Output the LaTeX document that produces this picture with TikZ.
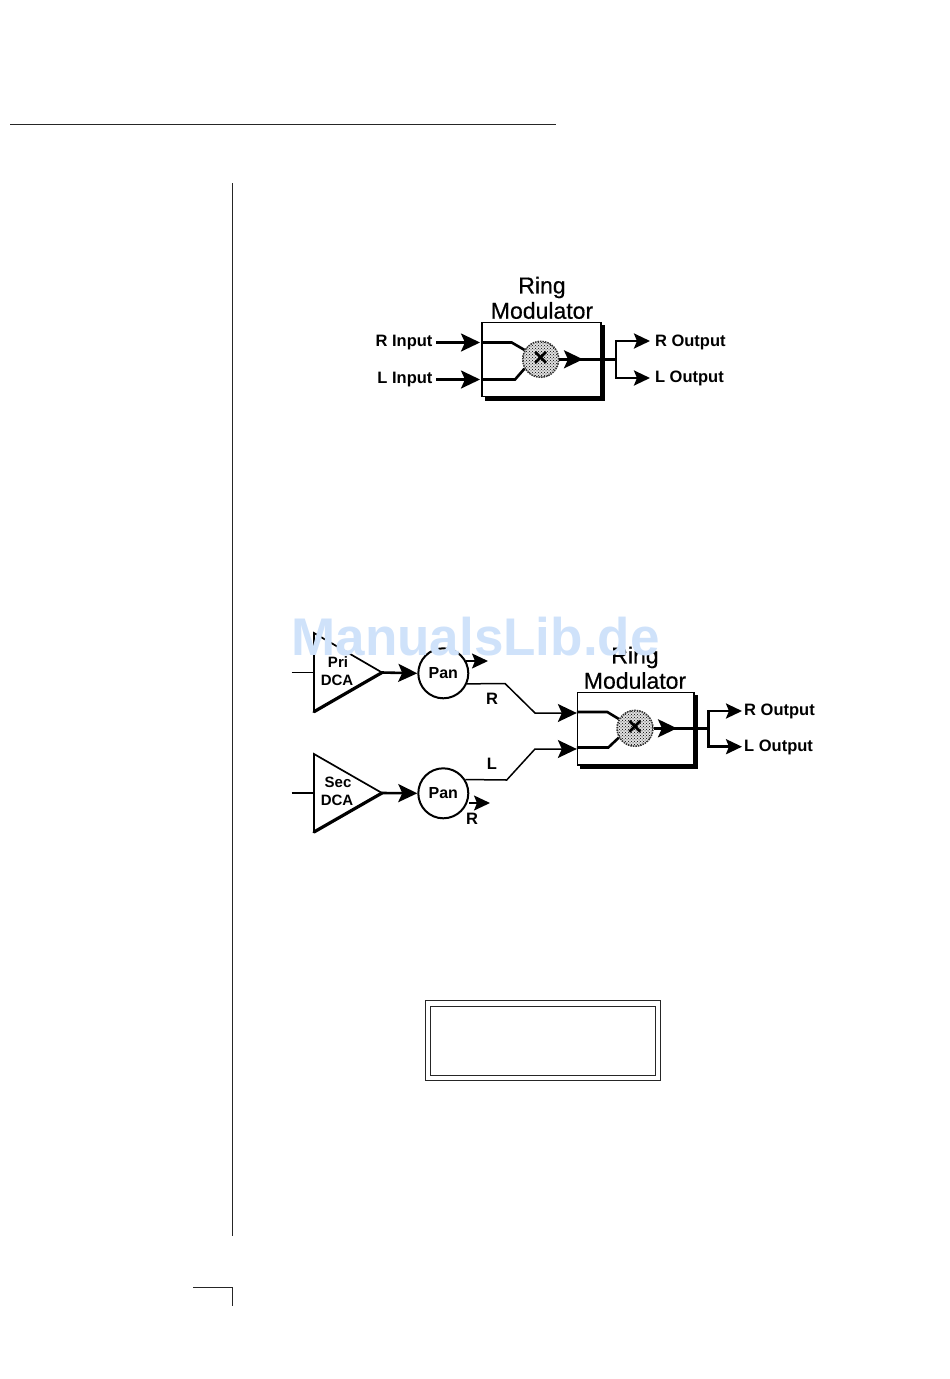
\documentclass[tikz,border=0pt]{standalone}
\usepackage{fontspec}
\setmainfont{Liberation Sans}
\newfontfamily\heavyfont[FakeBold=0.5]{Liberation Sans}
\usetikzlibrary{arrows.meta,patterns,shadows}
\definecolor{markblue}{HTML}{CFE2FA}
\tikzset{
    thinline/.style={line width=1.5pt},
    wire/.style={line width=2.6pt},
    bighead/.style={-{Stealth[length=19pt,width=18pt,inset=4pt]}},
    outhead/.style={-{Stealth[length=16pt,width=15pt,inset=3pt]}},
    pagerule/.style={line width=1pt, black!85},
    modbox/.style={draw, line width=1.4pt, fill=white, copy shadow={shadow xshift=3.5pt, shadow yshift=-3.5pt, fill=black, draw=black}},
    mixer/.style={circle, minimum size=36pt, inner sep=0pt, draw=black!80, densely dotted, line width=1.5pt, preaction={fill=black!12}, pattern=crosshatch dots, pattern color=black, font=\bfseries\fontsize{26}{26}\selectfont},
    panknob/.style={draw, circle, line width=2pt, fill=white, minimum size=50pt, inner sep=0pt, font=\bfseries\fontsize{16}{16}\selectfont},
    biglabel/.style={font=\heavyfont\fontsize{23}{23}\selectfont},
    smalllabel/.style={font=\bfseries\fontsize{16.5}{16.5}\selectfont},
    dcalabel/.style={font=\bfseries\fontsize{15}{15}\selectfont},
}
\begin{document}
\begin{tikzpicture}[x=1pt, y=-1pt]
    \useasboundingbox (0,0) rectangle (950,1379);
    % page rules
    \draw[pagerule] (10,124) -- (556,124);
    \draw[pagerule] (232.5,183) -- (232.5,1236);
    \draw[pagerule] (193,1287) -- (232,1287) -- (232,1306);

    % first ring modulator
    \node[modbox, minimum width=119pt, minimum height=74pt] (ringbox) at (541.3,359.5) {};
    \node[mixer] (ringmix) at (540.7,359.3) {\textcolor{black}{×}};
    \node[biglabel] (ringtitle) at (542,287.5) {Ring};
    \node[biglabel] (ringname) at (542,310.5) {Modulator};
    \node[smalllabel, anchor=east] (rinput) at (436,343) {R Input};
    \node[smalllabel, anchor=east] (linput) at (436,380) {L Input};
    \node[smalllabel, anchor=west] (routput) at (651.5,342.5) {R Output};
    \node[smalllabel, anchor=west] (loutput) at (651.5,378.5) {L Output};
    \coordinate (routtip) at (650,341);
    \coordinate (louttip) at (650,378);
    \draw[wire, bighead] (rinput.east |- 0,342.5) -- (480,342.5);
    \draw[wire, bighead] (linput.east |- 0,379.5) -- (480,379.5);
    \draw[wire] (ringbox.west |- 0,342.5) -- (511.7,342.5) -- (ringmix.150);
    \draw[wire] (ringbox.west |- 0,379.5) -- (515,379.5) -- (ringmix.210);
    \draw[wire, bighead] (ringmix.east) -- (583,359.3);
    \coordinate (ringfork) at (616,359.3);
    \draw[wire] (ringmix.east) -- (ringfork);
    \draw[wire, outhead] (ringfork) |- (routtip);
    \draw[wire, outhead] (ringfork) |- (louttip);

    % triangles of the second diagram
    \coordinate (pritop) at (314,633);
    \coordinate (prilow) at (314,711.7);
    \coordinate (pritip) at (382,672.5);
    \coordinate (sectop) at (314,754);
    \coordinate (seclow) at (314,832);
    \coordinate (sectip) at (382,793);
    \coordinate (priin) at (291.5,672.5);
    \coordinate (secin) at (291.5,793);
    \draw[thinline] (priin) -- (314,672.5);
    \draw[thinline] (secin) -- (314,793);
    \draw[line width=1.7pt] (prilow) -- (pritop) -- (pritip);
    \draw[line width=3.2pt, line cap=round] (pritip) -- (prilow);
    \draw[line width=1.7pt] (seclow) -- (sectop) -- (sectip);
    \draw[line width=3.2pt, line cap=round] (sectip) -- (seclow);
    \node[dcalabel] (prilabel) at (338,662) {Pri};
    \node[dcalabel] (pridca) at (337,680) {DCA};
    \node[dcalabel] (seclabel) at (338,782) {Sec};
    \node[dcalabel] (secdca) at (337,800) {DCA};

    % pan stages
    \node[panknob] (panpri) at (443.3,673.3) {Pan};
    \node[panknob] (pansec) at (443.3,793.3) {Pan};
    \draw[wire, bighead] (pritip) -- (panpri.west);
    \draw[wire, bighead] (sectip) -- (pansec.west);
    \coordinate (priend) at (488,661);
    \coordinate (secend) at (490,803);
    \draw[thinline, outhead] (panpri.east |- priend) ++(-3,0) -- (priend);
    \draw[thinline, outhead] (pansec.east |- secend) -- (secend);

    % second ring modulator
    \node[modbox, minimum width=116.5pt, minimum height=72.5pt] (mainbox) at (635.8,728.7) {};
    \node[mixer] (mainmix) at (635,728.3) {\textcolor{black}{×}};
    \node[biglabel] (maintitle) at (635,657.5) {Ring};
    \node[biglabel] (mainname) at (635,680.5) {Modulator};
    \node[smalllabel, anchor=west] (mainr) at (740.7,711.5) {R Output};
    \node[smalllabel, anchor=west] (mainl) at (740.7,747.5) {L Output};
    \coordinate (mainrtip) at (742,711);
    \coordinate (mainltip) at (742,746.7);
    \draw[thinline, bighead] (panpri.-24) -- (505,683.5) -- (535,713) -- (mainbox.west |- 0,713);
    \draw[thinline, bighead] (pansec.32) -- (506.7,780) -- (535,749) -- (mainbox.west |- 0,749);
    \node[smalllabel] (panr) at (492,699) {R};
    \node[smalllabel] (panl) at (492,764) {L};
    \node[smalllabel] (panrb) at (472,819) {R};
    \draw[wire] (mainbox.west |- 0,712) -- (607.3,712) -- (mainmix.150);
    \draw[wire] (mainbox.west |- 0,747.5) -- (608.3,747.5) -- (mainmix.210);
    \draw[wire, bighead] (mainmix.east) -- (677,728.3);
    \coordinate (mainfork) at (708.3,728.3);
    \draw[wire] (mainmix.east) -- (mainfork);
    \draw[wire, outhead] (mainfork) |- (mainrtip);
    \draw[wire, outhead] (mainfork) |- (mainltip);

    % display window
    \node[draw, line width=1pt, black!85, minimum width=235pt, minimum height=80.5pt] (dispouter) at (543,1040.7) {};
    \node[draw, line width=1pt, black!85, minimum width=224.5pt, minimum height=69pt] (dispinner) at (543.2,1041) {};

    % site mark over everything
    \node[anchor=base, inner sep=0pt, text=markblue, font=\bfseries\fontsize{53}{53}\selectfont] (sitemark) at (475.5,655) {ManualsLib.de};
\end{tikzpicture}
\end{document}
